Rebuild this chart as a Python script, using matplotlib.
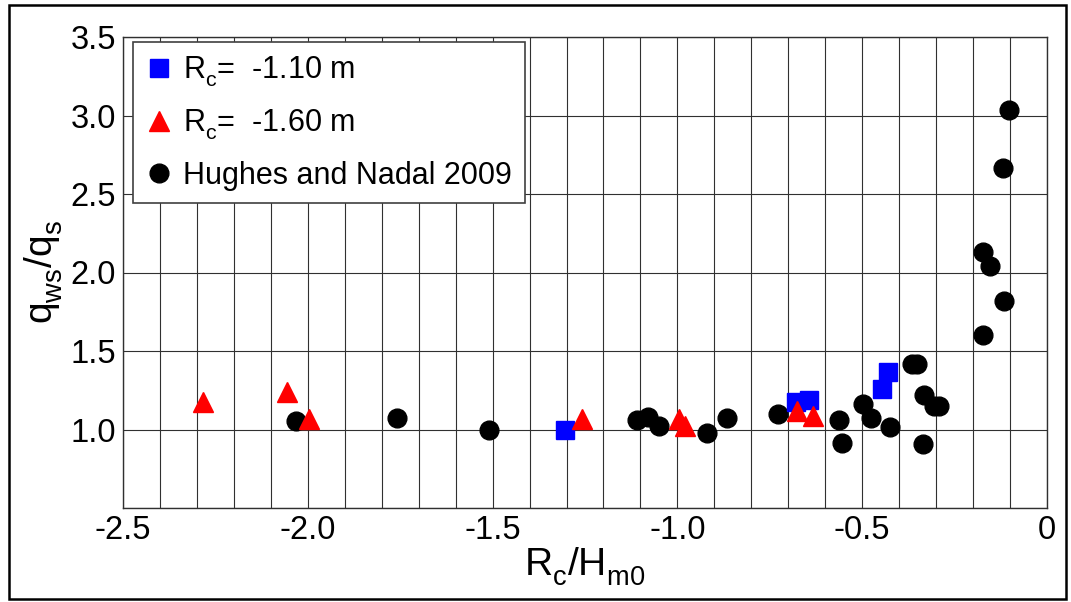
import matplotlib
matplotlib.use("Agg")
import matplotlib.pyplot as plt
from matplotlib.ticker import MultipleLocator, FixedLocator, FixedFormatter
from matplotlib.patches import Rectangle

try:
    from matplotlib import _mathtext
    _mathtext.FontConstantsBase.sub1 = 0.5
    _mathtext.FontConstantsBase.sub2 = 0.6
except Exception:
    pass

plt.rcParams['font.family'] = ['Liberation Sans', 'DejaVu Sans']
plt.rcParams['mathtext.fontset'] = 'custom'
plt.rcParams['mathtext.rm'] = 'Liberation Sans'
plt.rcParams['mathtext.it'] = 'Liberation Sans'
plt.rcParams['axes.unicode_minus'] = False

# ---- data ----
blue_x = [-1.304, -0.680, -0.643, -0.447, -0.431]
blue_y = [0.995, 1.175, 1.190, 1.256, 1.368]

red_x = [-2.283, -2.055, -1.996, -1.258, -0.995, -0.980, -0.677, -0.633]
red_y = [1.178, 1.238, 1.066, 1.070, 1.068, 1.020, 1.115, 1.088]

hn_x = [-2.032, -1.758, -1.511, -1.110, -1.080, -1.051, -0.921, -0.865,
        -0.728, -0.564, -0.556, -0.499, -0.475, -0.425, -0.366, -0.352,
        -0.334, -0.336, -0.305, -0.291, -0.172, -0.115, -0.153, -0.172,
        -0.119, -0.104]
hn_y = [1.055, 1.072, 1.000, 1.058, 1.082, 1.022, 0.978, 1.073,
        1.100, 1.062, 0.912, 1.165, 1.074, 1.016, 1.420, 1.420,
        1.221, 0.906, 1.150, 1.150, 1.600, 1.817, 2.040, 2.128,
        2.664, 3.032]

labels = [r'$\mathregular{R_c}$=  -1.10 m', r'$\mathregular{R_c}$=  -1.60 m',
          'Hughes and Nadal 2009']
x_ticks = [-2.5, -2.0, -1.5, -1.0, -0.5, 0.0]
x_ticklabels = ['-2.5', '-2.0', '-1.5', '-1.0', '-0.5', '0']
y_ticks = [1.0, 1.5, 2.0, 2.5, 3.0, 3.5]
y_ticklabels = ['1.0', '1.5', '2.0', '2.5', '3.0', '3.5']

fig = plt.figure(figsize=(10.71, 6.02), dpi=100)
ax = fig.add_axes([123/1071, 1-508/602, (1047-123)/1071, (508-37)/602])

ax.set_xlim(-2.5, 0)
ax.set_ylim(0.5, 3.5)

ax.xaxis.set_major_locator(FixedLocator(x_ticks))
ax.xaxis.set_major_formatter(FixedFormatter(x_ticklabels))
ax.xaxis.set_minor_locator(MultipleLocator(0.1))
ax.yaxis.set_major_locator(FixedLocator(y_ticks))
ax.yaxis.set_major_formatter(FixedFormatter(y_ticklabels))
ax.yaxis.set_minor_locator(MultipleLocator(0.5))

ax.grid(True, which='both', axis='x', color='#303030', lw=0.8)
ax.grid(True, which='both', axis='y', color='#303030', lw=0.8)
ax.set_axisbelow(True)
ax.tick_params(which='both', length=0)
ax.tick_params(axis='x', labelsize=23.5, pad=5)
ax.tick_params(axis='y', labelsize=23.5, pad=5)
for s in ax.spines.values():
    s.set_color('#303030')
    s.set_linewidth(1.0)

ax.plot(blue_x, blue_y, ls='none', marker='s', ms=12.5, color='#0000FF',
        mec='#0000FF', label=labels[0], zorder=3)
ax.plot(red_x, red_y, ls='none', marker='^', ms=15, color='#FF0000',
        mec='#FF0000', label=labels[1], zorder=3)
ax.plot(hn_x, hn_y, ls='none', marker='o', ms=13.5, color='black',
        label=labels[2], zorder=2)

ax.set_xlabel(r'$\mathregular{R_c/H_{m0}}$', fontsize=28, labelpad=0)
ax.set_ylabel(r'$\mathregular{q_{ws}/q_s}$', fontsize=28, labelpad=4)

leg = ax.legend(loc='upper left', bbox_to_anchor=(133/1071, 1-42/602),
                bbox_transform=fig.transFigure, borderaxespad=0,
                fontsize=22, frameon=True, fancybox=False, framealpha=1,
                edgecolor='#404040', handlelength=0.9, handletextpad=0.35,
                labelspacing=0.62, borderpad=0.4, numpoints=1)
leg.get_frame().set_linewidth(1.2)

fig.patches.append(Rectangle((9/1071, 1-599/602), (1066-9)/1071, (599-5)/602,
                             transform=fig.transFigure, fill=False,
                             edgecolor='black', lw=1.8))

fig.savefig('out.png', dpi=100)
